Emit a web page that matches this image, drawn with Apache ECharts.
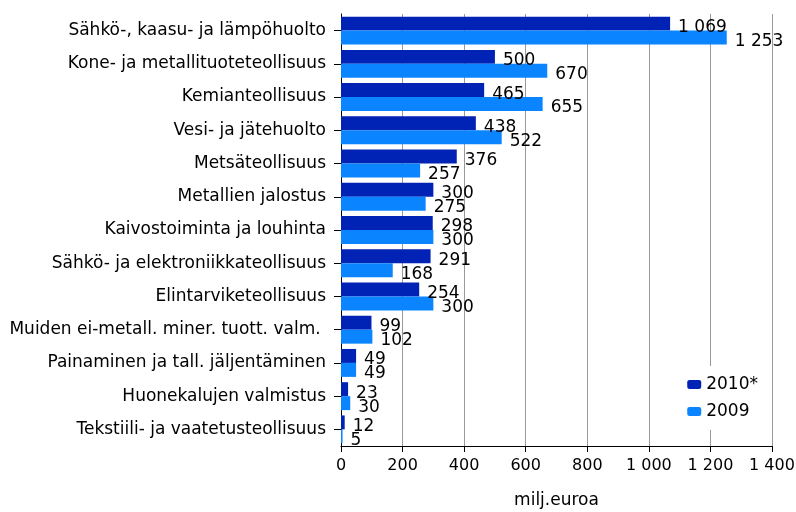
<!DOCTYPE html>
<html>
<head>
<meta charset="utf-8">
<script src="https://cdn.jsdelivr.net/npm/echarts@6/dist/echarts.min.js"></script>
<style>
html, body { margin: 0; padding: 0; background: #fff; }
#main { width: 796px; height: 512px; }
</style>
</head>
<body>
<div id="main"></div>
<script>
// toimialat, ylhäältä alas
var toimialat = [
	'Sähkö-, kaasu- ja lämpöhuolto',
	'Kone- ja metallituoteteollisuus',
	'Kemianteollisuus',
	'Vesi- ja jätehuolto',
	'Metsäteollisuus',
	'Metallien jalostus',
	'Kaivostoiminta ja louhinta',
	'Sähkö- ja elektroniikkateollisuus',
	'Elintarviketeollisuus',
	'Muiden ei-metall. miner. tuott. valm. ',
	'Painaminen ja tall. jäljentäminen',
	'Huonekalujen valmistus',
	'Tekstiili- ja vaatetusteollisuus'
];
var vuosi2010 = [1069, 500, 465, 438, 376, 300, 298, 291, 254, 99, 49, 23, 12];
var vuosi2009 = [1253, 670, 655, 522, 257, 275, 300, 168, 300, 102, 49, 30, 5];
var sarjat = ['2010*', '2009'];

function luku(v) {
	return String(v).replace(/\B(?=(\d{3})+(?!\d))/g, ' ');
}

var fontti = 'DejaVu Sans';
var arvoLabel = {
	show: true,
	position: 'right',
	distance: 8,
	offset: [0, 4],
	color: '#000',
	fontFamily: fontti,
	fontSize: 17,
	formatter: function (p) { return luku(p.value); }
};

var chart = echarts.init(document.getElementById('main'));
chart.setOption({
	backgroundColor: '#fff',
	animation: false,
	textStyle: { fontFamily: fontti },
	grid: {
		left: 341,
		right: 24,
		top: 14,
		bottom: 66,
		containLabel: false,
		outerBoundsMode: 'none'
	},
	legend: {
		data: sarjat,
		orient: 'vertical',
		right: 28,
		top: 366,
		padding: [10, 10, 10, 8],
		backgroundColor: '#fff',
		itemWidth: 14,
		itemHeight: 9,
		itemGap: 10,
		textStyle: { color: '#000', fontSize: 17, fontFamily: fontti }
	},
	xAxis: {
		type: 'value',
		min: 0,
		max: 1400,
		interval: 200,
		name: 'milj.euroa',
		nameLocation: 'middle',
		nameGap: 46,
		nameTextStyle: { color: '#000', fontSize: 17, fontFamily: fontti },
		axisLine: { show: true, lineStyle: { color: '#000', width: 1 } },
		axisTick: { show: true, length: 6, lineStyle: { color: '#000' } },
		axisLabel: {
			color: '#000',
			fontSize: 16,
			fontFamily: fontti,
			margin: 12,
			formatter: luku
		},
		splitLine: {
			show: true,
			lineStyle: { color: '#999', width: 1 }
		}
	},
	yAxis: {
		type: 'category',
		inverse: true,
		data: toimialat,
		axisLine: { show: true, lineStyle: { color: '#000', width: 1 } },
		axisTick: { show: true, alignWithLabel: true, length: 7, lineStyle: { color: '#000' } },
		axisLabel: {
			color: '#000',
			fontSize: 17,
			fontFamily: fontti,
			margin: 15,
			interval: 0
		},
		splitLine: { show: false }
	},
	series: [
		{
			name: sarjat[0],
			type: 'bar',
			data: vuosi2010,
			barGap: '0%',
			barCategoryGap: '16%',
			itemStyle: { color: '#0022b5' },
			label: arvoLabel
		},
		{
			name: sarjat[1],
			type: 'bar',
			data: vuosi2009,
			barGap: '0%',
			barCategoryGap: '16%',
			itemStyle: { color: '#0a84ff' },
			label: arvoLabel
		}
	]
});
</script>
</body>
</html>
